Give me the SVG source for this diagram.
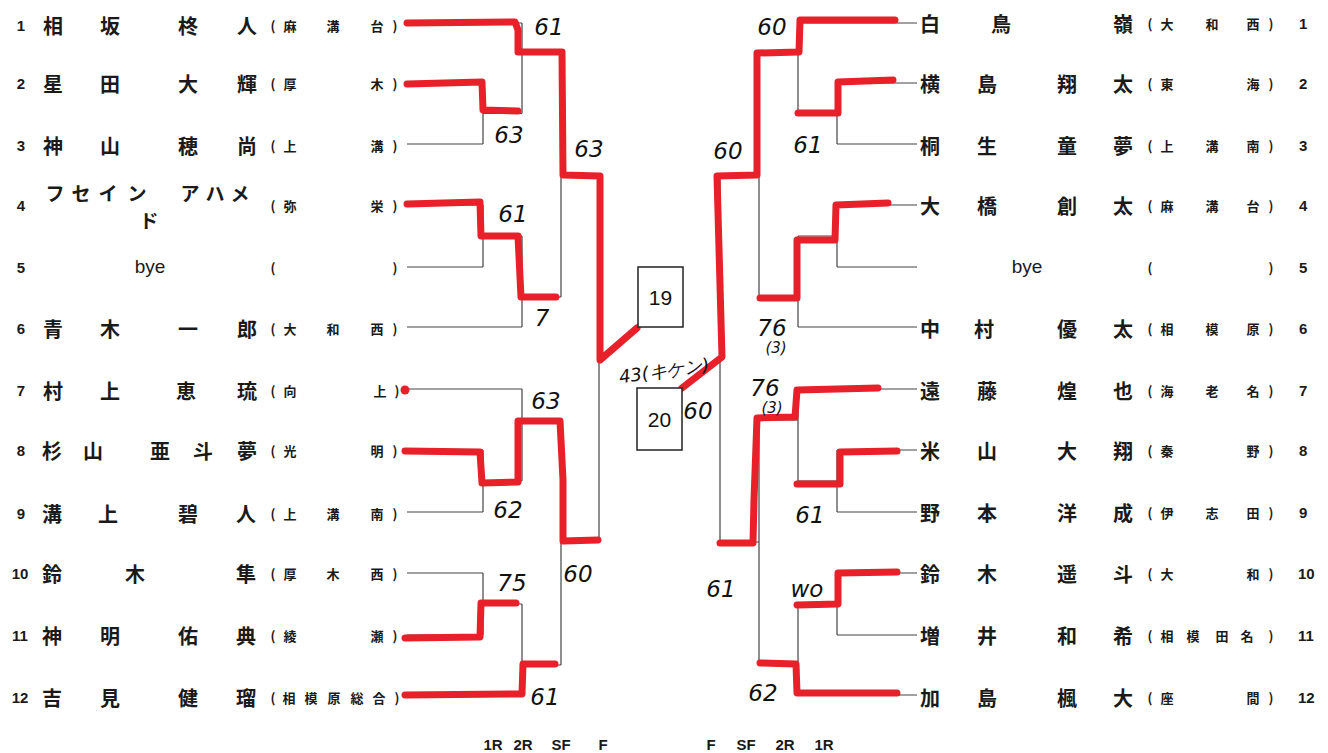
<svg xmlns="http://www.w3.org/2000/svg" width="1328" height="753" viewBox="0 0 1328 753">
<style>
.nm{font-family:"Noto Sans CJK JP","Noto Sans CJK SC",sans-serif;font-size:20px;font-weight:bold;fill:#1a1a1a;dominant-baseline:central;text-anchor:middle}
.sc{font-family:"Noto Sans CJK JP","Noto Sans CJK SC",sans-serif;font-size:13px;font-weight:bold;fill:#1a1a1a;dominant-baseline:central;text-anchor:middle}
.num{font-family:"Liberation Sans",Arial,sans-serif;font-size:15px;font-weight:bold;fill:#1a1a1a;dominant-baseline:central}
.bye{font-family:"Liberation Sans",Arial,sans-serif;font-size:19px;fill:#1a1a1a;dominant-baseline:central;text-anchor:middle}
.ln{fill:none;stroke:#444;stroke-width:1.2}
.red{fill:none;stroke:#e8202a;stroke-width:7;stroke-linecap:round;stroke-linejoin:round}
.hw{font-family:"DejaVu Sans",sans-serif;font-style:italic;font-size:23px;fill:#111;text-anchor:middle}
.hws{font-family:"DejaVu Sans",sans-serif;font-style:italic;font-size:15px;fill:#111;text-anchor:middle}
.rd{font-family:"Liberation Sans",Arial,sans-serif;font-size:15px;font-weight:bold;fill:#1a1a1a;text-anchor:middle}
.box{fill:#fff;stroke:#222;stroke-width:1.5}
.bx{font-family:"Liberation Sans",Arial,sans-serif;font-size:21px;fill:#111;text-anchor:middle;dominant-baseline:central}
</style>
<rect width="1328" height="753" fill="#ffffff"/>

<g id="connectors">
<path class="ln" d="M407,23H522 M407,83H483 M407,144H483 M407,205H483 M407,267H483 M407,327H522 M407,389H522 M407,450H483 M407,512H483 M407,573H483 M407,635H483 M407,695H522
M483,83V144 M483,113.5H522 M483,205V267 M483,236H522 M483,450V512 M483,481H522 M483,573V635 M483,604H522
M522,23V113.5 M522,53H561 M522,236V327 M522,297H561 M522,389V481 M522,420H561 M522,604V695 M522,665H561
M561,53V297 M561,175H599 M561,420V665 M561,542H599 M599,175V542"/>
<path class="ln" d="M917,23H798 M917,83H837 M917,144H837 M917,205H837 M917,267H837 M917,327H798 M917,389H798 M917,450H837 M917,512H837 M917,573H837 M917,635H837 M917,695H798
M837,83V144 M837,113.5H798 M837,205V267 M837,236H798 M837,450V512 M837,481H798 M837,573V635 M837,604H798
M798,23V113.5 M798,53H759 M798,236V327 M798,297H759 M798,389V481 M798,420H759 M798,604V695 M798,665H759
M759,53V297 M759,175H720 M759,420V665 M759,542H720 M720,175V542"/>
</g>

<g id="red-marks">
<path class="red" d="M407,23 L515,22 L518,30 L518,52 L562,52 L563,175 L600,176 L600,360 L637,328"/>
<path class="red" d="M407,84 L482,82 L483,110 L518,111"/>
<path class="red" d="M407,204 L480,202 L481,236 L518,236 L521,297 L556,297"/>
<circle cx="405" cy="390" r="4.5" fill="#e8202a"/>
<path class="red" d="M405,451 L480,452 L482,483 L518,482 L518,421 L560,421 L563,480 L563,541 L598,540"/>
<path class="red" d="M405,638 L480,637 L481,603 L516,603"/>
<path class="red" d="M405,695 L522,694 L523,664 L555,664"/>
<path class="red" d="M895,20 L800,20 L799,52 L757,53 L757,175 L717,176 L722,357 L682,388"/>
<path class="red" d="M893,80 L838,82 L838,113 L798,113"/>
<path class="red" d="M888,203 L836,205 L835,240 L797,240 L797,298 L760,298"/>
<path class="red" d="M878,388 L797,390 L795,417 L757,418 L754,500 L753,543 L720,543"/>
<path class="red" d="M897,451 L840,452 L840,484 L797,484"/>
<path class="red" d="M897,572 L838,573 L838,604 L797,605"/>
<path class="red" d="M897,693 L797,693 L796,664 L760,663"/>
</g>

<g id="box19"><rect class="box" x="638" y="267" width="45" height="60"/><text class="bx" x="660.5" y="297">19</text></g>
<g id="box20"><rect class="box" x="637" y="388" width="45" height="62"/><text class="bx" x="659.5" y="419">20</text></g>

<g id="left-players">
<g id="L1"><text class="num" x="21" y="25" text-anchor="middle">1</text><text class="nm" x="53 110 188 247" y="25">相坂柊人</text><text class="sc" x="273 290 333 377 395" y="25">(麻溝台)</text></g>
<g id="L2"><text class="num" x="21" y="83" text-anchor="middle">2</text><text class="nm" x="53 110 188 247" y="83">星田大輝</text><text class="sc" x="273 290 377 395" y="83">(厚木)</text></g>
<g id="L3"><text class="num" x="21" y="145" text-anchor="middle">3</text><text class="nm" x="53 110 188 247" y="145">神山穂尚</text><text class="sc" x="273 290 377 395" y="145">(上溝)</text></g>
<g id="L4"><text class="num" x="21" y="205" text-anchor="middle">4</text><text class="nm" x="55 81 108 137 190 215 240" y="192" style="font-size:19px">フセインアハメ</text><text class="nm" x="149" y="219" style="font-size:19px">ド</text><text class="sc" x="273 290 377 395" y="205">(弥栄)</text></g>
<g id="L5"><text class="num" x="21" y="267" text-anchor="middle">5</text><text class="bye" x="150" y="266">bye</text><text class="sc" x="273 395" y="267">()</text></g>
<g id="L6"><text class="num" x="21" y="328" text-anchor="middle">6</text><text class="nm" x="53 110 188 247" y="328">青木一郎</text><text class="sc" x="273 290 333 377 395" y="328">(大和西)</text></g>
<g id="L7"><text class="num" x="21" y="390" text-anchor="middle">7</text><text class="nm" x="53 110 186 247" y="390">村上恵琉</text><text class="sc" x="273 290 380 397" y="390">(向上)</text></g>
<g id="L8"><text class="num" x="21" y="450" text-anchor="middle">8</text><text class="nm" x="52 93 160 203 247" y="450">杉山亜斗夢</text><text class="sc" x="273 290 377 395" y="450">(光明)</text></g>
<g id="L9"><text class="num" x="21" y="513" text-anchor="middle">9</text><text class="nm" x="52 108 188 246" y="513">溝上碧人</text><text class="sc" x="273 290 333 377 395" y="513">(上溝南)</text></g>
<g id="L10"><text class="num" x="20" y="573" text-anchor="middle">10</text><text class="nm" x="52 135 246" y="573">鈴木隼</text><text class="sc" x="273 290 333 377 395" y="573">(厚木西)</text></g>
<g id="L11"><text class="num" x="20" y="635" text-anchor="middle">11</text><text class="nm" x="52 110 188 246" y="635">神明佑典</text><text class="sc" x="273 290 377 395" y="635">(綾瀬)</text></g>
<g id="L12"><text class="num" x="20" y="697" text-anchor="middle">12</text><text class="nm" x="52 110 188 246" y="697">吉見健瑠</text><text class="sc" x="273 289 311 334 357 379 397" y="697">(相模原総合)</text></g>
</g>

<g id="right-players">
<g id="R1"><text class="nm" x="930 1001 1123" y="23">白鳥嶺</text><text class="sc" x="1150 1167 1212 1253 1271" y="23">(大和西)</text><text class="num" x="1299" y="23">1</text></g>
<g id="R2"><text class="nm" x="930 987 1067 1123" y="83">横島翔太</text><text class="sc" x="1150 1167 1253 1271" y="83">(東海)</text><text class="num" x="1299" y="83">2</text></g>
<g id="R3"><text class="nm" x="930 987 1067 1123" y="145">桐生童夢</text><text class="sc" x="1150 1167 1212 1253 1271" y="145">(上溝南)</text><text class="num" x="1299" y="145">3</text></g>
<g id="R4"><text class="nm" x="930 987 1067 1123" y="205">大橋創太</text><text class="sc" x="1150 1167 1212 1253 1271" y="205">(麻溝台)</text><text class="num" x="1299" y="205">4</text></g>
<g id="R5"><text class="bye" x="1027" y="266">bye</text><text class="sc" x="1150 1271" y="267">()</text><text class="num" x="1299" y="267">5</text></g>
<g id="R6"><text class="nm" x="930 984 1067 1123" y="328">中村優太</text><text class="sc" x="1150 1167 1212 1253 1271" y="328">(相模原)</text><text class="num" x="1299" y="328">6</text></g>
<g id="R7"><text class="nm" x="930 987 1067 1123" y="390">遠藤煌也</text><text class="sc" x="1150 1167 1212 1253 1271" y="390">(海老名)</text><text class="num" x="1299" y="390">7</text></g>
<g id="R8"><text class="nm" x="930 987 1067 1123" y="450">米山大翔</text><text class="sc" x="1150 1167 1253 1271" y="450">(秦野)</text><text class="num" x="1299" y="450">8</text></g>
<g id="R9"><text class="nm" x="930 987 1067 1123" y="512">野本洋成</text><text class="sc" x="1150 1167 1212 1253 1271" y="512">(伊志田)</text><text class="num" x="1299" y="512">9</text></g>
<g id="R10"><text class="nm" x="930 987 1067 1123" y="573">鈴木遥斗</text><text class="sc" x="1150 1167 1253 1271" y="573">(大和)</text><text class="num" x="1298" y="573">10</text></g>
<g id="R11"><text class="nm" x="930 987 1067 1123" y="635">増井和希</text><text class="sc" x="1150 1167 1193 1222 1247 1271" y="635">(相模田名)</text><text class="num" x="1298" y="635">11</text></g>
<g id="R12"><text class="nm" x="930 987 1067 1123" y="697">加島楓大</text><text class="sc" x="1150 1167 1253 1271" y="697">(座間)</text><text class="num" x="1298" y="697">12</text></g>
</g>

<g id="scores">
<text class="hw" x="549" y="35">61</text>
<text class="hw" x="509" y="143">63</text>
<text class="hw" x="589" y="157">63</text>
<text class="hw" x="513" y="222">61</text>
<text class="hw" x="542" y="326">7</text>
<text class="hw" x="664" y="377" style="font-size:18px" transform="rotate(-8 664 370)">43(キケン)</text>
<text class="hw" x="546" y="409">63</text>
<text class="hw" x="508" y="518">62</text>
<text class="hw" x="578" y="582">60</text>
<text class="hw" x="512" y="591">75</text>
<text class="hw" x="545" y="705">61</text>
<text class="hw" x="698" y="419">60</text>
<text class="hw" x="772" y="35">60</text>
<text class="hw" x="808" y="153">61</text>
<text class="hw" x="728" y="159">60</text>
<text class="hw" x="772" y="336">76</text>
<text class="hws" x="776" y="353">(3)</text>
<text class="hw" x="765" y="396">76</text>
<text class="hws" x="772" y="413">(3)</text>
<text class="hw" x="810" y="523">61</text>
<text class="hw" x="721" y="597">61</text>
<text class="hw" x="807" y="597">wo</text>
<text class="hw" x="763" y="701">62</text>
</g>

<g id="round-labels">
<text class="rd" x="493" y="750">1R</text>
<text class="rd" x="523" y="750">2R</text>
<text class="rd" x="561" y="750">SF</text>
<text class="rd" x="603" y="750">F</text>
<text class="rd" x="711" y="750">F</text>
<text class="rd" x="746" y="750">SF</text>
<text class="rd" x="785" y="750">2R</text>
<text class="rd" x="824" y="750">1R</text>
</g>
</svg>
